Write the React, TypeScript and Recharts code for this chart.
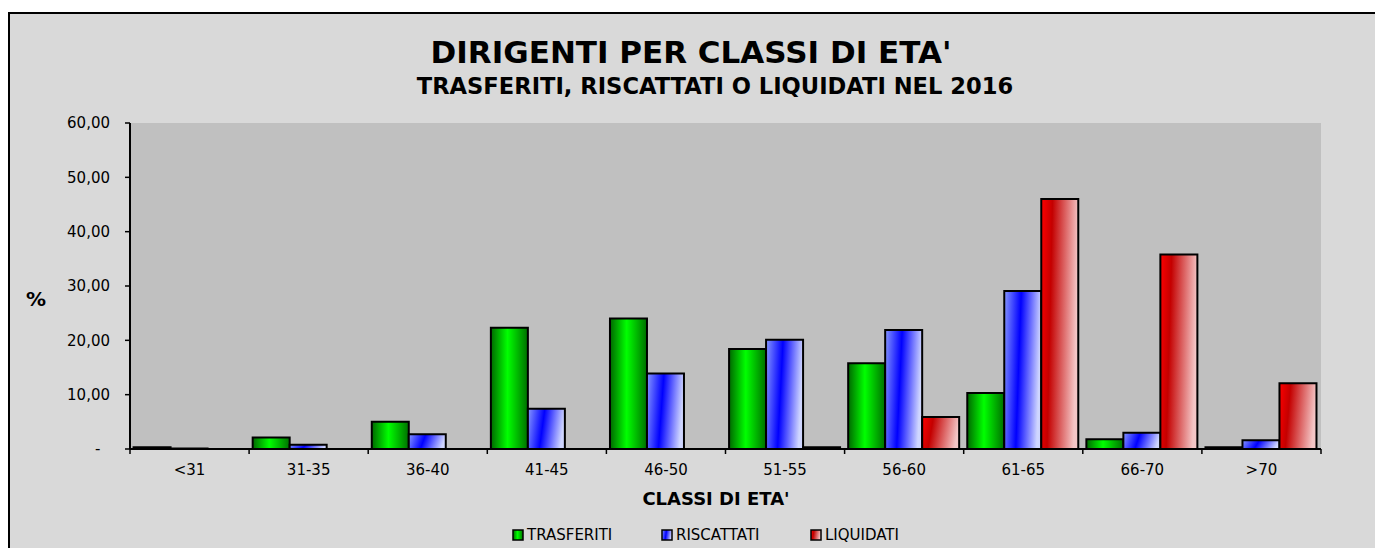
import { Bar, BarChart, CartesianGrid, XAxis, YAxis } from "recharts";

const CATEGORIES = ["<31", "31-35", "36-40", "41-45", "46-50", "51-55", "56-60", "61-65", "66-70", ">70"];
const TRASFERITI = [0.3, 2.1, 5.0, 22.3, 24.0, 18.4, 15.8, 10.3, 1.8, 0.3];
const RISCATTATI = [0.1, 0.8, 2.7, 7.4, 13.9, 20.1, 21.9, 29.1, 3.0, 1.6];
const LIQUIDATI = [0, 0, 0, 0, 0, 0.3, 5.9, 46.0, 35.8, 12.1];
const SERIES = ["TRASFERITI", "RISCATTATI", "LIQUIDATI"];
const Y_TICKS = [0, 10, 20, 30, 40, 50, 60];

const data = CATEGORIES.map((cat, i) => ({
  cat,
  TRASFERITI: TRASFERITI[i],
  RISCATTATI: RISCATTATI[i],
  LIQUIDATI: LIQUIDATI[i],
}));

const FONT = "'DejaVu Sans', Verdana, sans-serif";
const W = 1371;
const H = 534;

const fillFor = (name: string, prefix = "g") => `url(#${prefix}-${name})`;

function Gradients({ prefix }: { prefix: string }) {
  return (
    <defs>
      <linearGradient id={`${prefix}-TRASFERITI`} x1="0" y1="0" x2="1" y2="0">
        <stop offset="0%" stopColor="#006800" />
        <stop offset="45%" stopColor="#00ff00" />
        <stop offset="100%" stopColor="#007000" />
      </linearGradient>
      <linearGradient id={`${prefix}-RISCATTATI`} x1="0" y1="0" x2="1" y2="0.15">
        <stop offset="0%" stopColor="#8898ff" />
        <stop offset="45%" stopColor="#0000ff" />
        <stop offset="100%" stopColor="#cfd6ff" />
      </linearGradient>
      <linearGradient id={`${prefix}-LIQUIDATI`} x1="0" y1="0" x2="1" y2="0.15">
        <stop offset="0%" stopColor="#ff0000" />
        <stop offset="30%" stopColor="#c40000" />
        <stop offset="100%" stopColor="#f4c6c6" />
      </linearGradient>
    </defs>
  );
}

// category labels sit mid-band, tick marks sit on the band edges
function BandTick(props: any) {
  const { x, y, payload, index, visibleTicksCount } = props;
  const off = payload?.offset ?? 59.5;
  const top = y - 15;
  return (
    <g>
      <line x1={x - off} y1={top} x2={x - off} y2={top + 5} stroke="#000" strokeWidth={1.5} />
      {index === visibleTicksCount - 1 && (
        <line x1={x + off} y1={top} x2={x + off} y2={top + 5} stroke="#000" strokeWidth={1.5} />
      )}
      <text x={x} y={y} dy="0.71em" textAnchor="middle" fontSize={15} fontFamily={FONT} fill="#000">
        {payload.value}
      </text>
    </g>
  );
}

const fmtY = (v: number) => (v === 0 ? "-\u00a0\u00a0" : v.toFixed(2).replace(".", ","));

export default function App() {
  return (
    <div
      style={{
        position: "relative",
        marginTop: 4,
        width: W,
        height: H,
        border: "2px solid #000",
        background: "#d9d9d9",
        fontFamily: FONT,
      }}
    >
      <BarChart
        width={W}
        height={H}
        data={data}
        margin={{ top: 109, right: 60, bottom: 69, left: 20 }}
        barCategoryGap="3%"
        barGap={0}
      >
        <Gradients prefix="g" />
        <CartesianGrid fill="#c0c0c0" horizontal={false} vertical={false} />
        <XAxis
          dataKey="cat"
          height={30}
          tickSize={5}
          tickMargin={10}
          tickLine={false}
          axisLine={{ stroke: "#000", strokeWidth: 2 }}
          tick={<BandTick />}
          interval={0}
        />
        <XAxis xAxisId="top" dataKey="cat" orientation="top" height={0} tick={false} tickLine={false} axisLine={{ stroke: "#000", strokeWidth: 2 }} />
        <YAxis
          width={100}
          domain={[0, 60]}
          ticks={Y_TICKS}
          tickFormatter={fmtY}
          tickSize={5}
          tickMargin={15}
          tick={{ fontSize: 15, fontFamily: FONT, fill: "#000" }}
          tickLine={{ stroke: "#000", strokeWidth: 1.5 }}
          axisLine={{ stroke: "#000", strokeWidth: 2 }}
        />
        <YAxis yAxisId="right" orientation="right" width={0} domain={[0, 60]} tick={false} tickLine={false} axisLine={{ stroke: "#000", strokeWidth: 2 }} />
        {SERIES.map((s) => (
          <Bar key={s} dataKey={s} fill={fillFor(s)} stroke="#000" strokeWidth={2} isAnimationActive={false} />
        ))}
      </BarChart>

      <svg width={W} height={H} style={{ position: "absolute", left: 0, top: 0, pointerEvents: "none" }}>
        <Gradients prefix="lg" />
        <text x={681} y={49} textAnchor="middle" fontSize={31} fontWeight="bold" fontFamily={FONT}>
          DIRIGENTI PER CLASSI DI ETA'
        </text>
        <text x={705} y={80} textAnchor="middle" fontSize={22.6} fontWeight="bold" fontFamily={FONT}>
          TRASFERITI, RISCATTATI O LIQUIDATI NEL 2016
        </text>
        <text x={16} y={292} fontSize={20} fontWeight="bold" fontFamily={FONT}>
          %
        </text>
        <text x={706} y={491} textAnchor="middle" fontSize={18} fontWeight="bold" fontFamily={FONT}>
          CLASSI DI ETA'
        </text>
        {SERIES.map((s, i) => (
          <g key={s} transform={`translate(${503 + i * 149}, 516)`}>
            <rect x={0} y={0} width={10} height={10} fill={fillFor(s, "lg")} stroke="#000" strokeWidth={1.5} />
            <text x={14} y={10} fontSize={15} fontFamily={FONT}>
              {s}
            </text>
          </g>
        ))}
      </svg>
    </div>
  );
}
